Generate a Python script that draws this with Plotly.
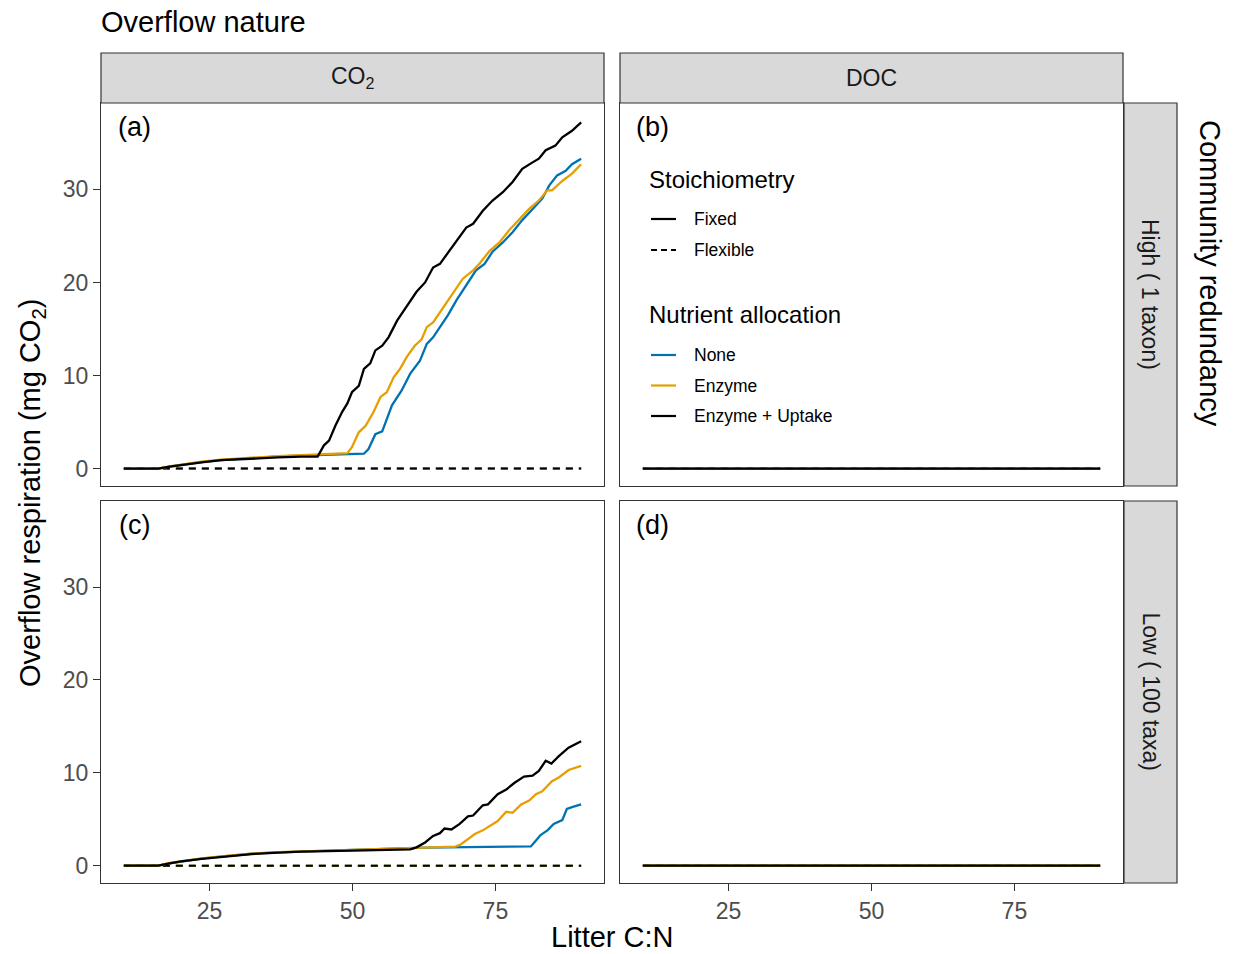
import plotly.graph_objects as go

W, H = 1239, 954

# ---------------- data ----------------
ALLOCATIONS = ["None", "Enzyme", "Enzyme + Uptake"]
COLORS = ["#0072B2", "#E69F00", "#000000"]
STOICH = ["Fixed", "Flexible"]

# Panel (a): CO2, High redundancy, Fixed stoichiometry
A_NONE_X = [10, 16, 18, 20, 23.6, 27, 32.3, 37, 41, 45,
            49, 52.0, 52.8, 54.0, 55.2, 56.9, 58.6, 60.1, 61.8, 63.0,
            64.1, 65.3, 66.7, 68.2, 69.9, 71.6, 73.1, 74.5, 76.3, 78.0,
            79.7, 81.5, 83.2, 84.4, 85.8, 87.3, 88.4, 90]
A_NONE_Y = [0, 0, 0.2, 0.4, 0.7, 0.9, 1.15, 1.3, 1.4, 1.5,
            1.55, 1.6, 2.1, 3.7, 4.0, 6.8, 8.4, 10.2, 11.6, 13.4,
            14.1, 15.2, 16.5, 18.1, 19.7, 21.3, 22.0, 23.3, 24.3, 25.4,
            26.7, 27.9, 29.0, 30.4, 31.5, 32.0, 32.7, 33.3]
A_ENZ_X = [10, 16, 18, 20, 23.6, 27, 32.3, 37, 41, 45,
           49.1, 49.9, 51.1, 52.3, 53.7, 54.9, 56.0, 57.2, 58.3, 59.5,
           60.9, 62.1, 63.0, 64.1, 65.3, 66.7, 68.2, 69.3, 71.1, 72.2,
           74.0, 75.7, 77.4, 79.2, 80.9, 82.6, 84.1, 84.9, 86.7, 88.4, 90]
A_ENZ_Y = [0, 0, 0.25, 0.45, 0.75, 0.95, 1.2, 1.35, 1.45, 1.55,
           1.65, 2.3, 3.9, 4.6, 6.1, 7.7, 8.2, 9.8, 10.7, 12.0,
           13.2, 13.9, 15.2, 15.7, 16.8, 18.1, 19.5, 20.4, 21.3, 22.0,
           23.4, 24.3, 25.6, 26.8, 27.9, 28.8, 29.9, 29.9, 30.9, 31.7, 32.7]
A_UPT_X = [10, 16, 18, 20, 23.6, 27, 32.3, 37, 41,
           43.9, 45.0, 45.9, 47.0, 48.2, 49.1, 49.9, 51.1, 52.0, 53.1,
           54.0, 55.2, 56.3, 57.8, 59.5, 61.2, 62.7, 64.1, 65.3, 67.0,
           68.75, 69.9, 71.1, 72.8, 74.5, 76.3, 78.0, 79.7, 81.5, 82.6,
           83.8, 85.5, 86.7, 88.4, 90]
A_UPT_Y = [0, 0, 0.2, 0.4, 0.68, 0.9, 1.1, 1.2, 1.29,
           1.3, 2.5, 3.0, 4.6, 6.1, 7.0, 8.2, 8.9, 10.7, 11.3,
           12.7, 13.2, 14.1, 15.9, 17.5, 19.0, 20.0, 21.6, 22.0, 23.4,
           24.9, 25.9, 26.3, 27.7, 28.8, 29.7, 30.8, 32.2, 32.9, 33.3,
           34.2, 34.7, 35.6, 36.3, 37.2]

# Panel (c): CO2, Low redundancy, Fixed stoichiometry
C_NONE_X = [10, 16, 18, 20, 23.6, 27, 32.3, 37, 41, 50,
            58.3, 63, 70, 75, 81.2, 82.1, 82.9, 84.1, 85.2, 86.7,
            87.5, 88.4, 90]
C_NONE_Y = [0, 0, 0.25, 0.45, 0.75, 0.98, 1.28, 1.43, 1.53, 1.7,
            1.85, 1.95, 2.0, 2.05, 2.07, 2.7, 3.3, 3.8, 4.5, 4.9,
            6.1, 6.3, 6.6]
C_ENZ_X = [10, 16, 18, 20, 23.6, 27, 32.3, 37, 41, 50,
           58.3, 63, 68.0, 69.0, 70.2, 71.4, 72.8, 74.0, 75.4, 76.9,
           78.0, 79.5, 80.9, 82.1, 83.2, 84.9, 86.1, 87.8, 90]
C_ENZ_Y = [0, 0, 0.3, 0.5, 0.78, 1.0, 1.3, 1.45, 1.55, 1.7,
           1.85, 1.95, 2.05, 2.3, 2.9, 3.4, 3.8, 4.3, 4.8, 5.8,
           5.7, 6.6, 7.0, 7.7, 8.0, 9.1, 9.5, 10.3, 10.75]
C_UPT_X = [10, 16, 18, 20, 23.6, 27, 32.3, 37, 41, 50,
           58.3, 60.1, 61.2, 62.7, 64.1, 65.3, 66.1, 67.3, 68.75, 70.2,
           71.1, 72.8, 73.7, 75.4, 76.9, 78.3, 80.0, 81.5, 82.6, 83.8,
           84.8, 86.1, 87.8, 90]
C_UPT_Y = [0, 0, 0.25, 0.45, 0.72, 0.95, 1.25, 1.4, 1.5, 1.62,
           1.7, 1.75, 1.97, 2.5, 3.2, 3.5, 4.0, 3.9, 4.5, 5.3,
           5.4, 6.5, 6.6, 7.7, 8.2, 8.9, 9.6, 9.7, 10.2, 11.3,
           11.0, 11.8, 12.7, 13.4]

# Panels (b) and (d): DOC overflow is zero everywhere
DOC_X = [10, 90]
DOC_Y = [0, 0]

# Flexible stoichiometry: zero overflow in every panel
FLEX_X = [10, 90]
FLEX_Y = [0, 0]

COL_LABELS = ["CO<sub>2</sub>", "DOC"]
ROW_LABELS = ["High ( 1 taxon)", "Low ( 100 taxa)"]
PANEL_TAGS = ["(a)", "(b)", "(c)", "(d)"]
X_TICKS = [25, 50, 75]
Y_TICKS = [0, 10, 20, 30]

# ---------------- helpers ----------------
def fx(p):
    return p / W


def fy(p):
    return 1 - p / H


FONT = "Liberation Sans, Arial, Helvetica, sans-serif"
BORDER = "#333333"

COL_PX = [(101, 604), (620, 1123)]
ROW_PX = [(103, 486), (501, 883)]

fixed_series = {
    0: [(A_NONE_X, A_NONE_Y), (A_ENZ_X, A_ENZ_Y), (A_UPT_X, A_UPT_Y)],
    1: [(DOC_X, DOC_Y)] * 3,
    2: [(C_NONE_X, C_NONE_Y), (C_ENZ_X, C_ENZ_Y), (C_UPT_X, C_UPT_Y)],
    3: [(DOC_X, DOC_Y)] * 3,
}

fig = go.Figure()

for p in range(4):
    suffix = "" if p == 0 else str(p + 1)
    xa, ya = "x" + suffix, "y" + suffix
    # flexible (dashed) first
    for k, alloc in enumerate(ALLOCATIONS):
        fig.add_trace(go.Scatter(
            x=FLEX_X, y=FLEX_Y, mode="lines", xaxis=xa, yaxis=ya,
            line=dict(color=COLORS[k], width=2, dash="7px,6px"),
            name=f"{alloc} / Flexible", showlegend=False, hoverinfo="skip"))
    for k, alloc in enumerate(ALLOCATIONS):
        sx, sy = fixed_series[p][k]
        fig.add_trace(go.Scatter(
            x=sx, y=sy, mode="lines", xaxis=xa, yaxis=ya,
            line=dict(color=COLORS[k], width=2.3),
            name=f"{alloc} / Fixed", showlegend=False))

layout = dict(
    width=W, height=H, margin=dict(l=0, r=0, t=0, b=0),
    paper_bgcolor="white", plot_bgcolor="white",
    font=dict(family=FONT, color="#000000"),
    showlegend=False,
)

for p in range(4):
    r, c = divmod(p, 2)
    suffix = "" if p == 0 else str(p + 1)
    x0, x1 = COL_PX[c]
    y0, y1 = ROW_PX[r]
    xax = dict(
        domain=[fx(x0), fx(x1)], range=[6, 94], anchor="y" + suffix,
        showline=True, mirror=True, linecolor=BORDER, linewidth=1.2,
        showgrid=False, zeroline=False, tickvals=X_TICKS,
        ticks="outside" if r == 1 else "", ticklen=7, tickwidth=1.2, tickcolor=BORDER,
        showticklabels=(r == 1), tickfont=dict(size=23, color="#4D4D4D", family=FONT),
    )
    yax = dict(
        domain=[fy(y1), fy(y0)], range=[-1.87, 39.28], anchor="x" + suffix,
        showline=True, mirror=True, linecolor=BORDER, linewidth=1.2,
        showgrid=False, zeroline=False, tickvals=Y_TICKS,
        ticks="outside" if c == 0 else "", ticklen=7, tickwidth=1.2, tickcolor=BORDER,
        showticklabels=(c == 0), tickfont=dict(size=23, color="#4D4D4D", family=FONT),
    )
    layout["xaxis" + suffix] = xax
    layout["yaxis" + suffix] = yax

fig.update_layout(**layout)

shapes = []
annotations = []

# column strips
for c, lab in enumerate(COL_LABELS):
    x0, x1 = COL_PX[c]
    shapes.append(dict(type="rect", xref="paper", yref="paper",
                       x0=fx(x0), x1=fx(x1), y0=fy(103), y1=fy(53),
                       fillcolor="#D9D9D9", line=dict(color=BORDER, width=1.2)))
    annotations.append(dict(text=lab, xref="paper", yref="paper",
                            x=fx((x0 + x1) / 2), y=fy(78), showarrow=False,
                            xanchor="center", yanchor="middle",
                            font=dict(size=23, color="#1A1A1A", family=FONT)))

# row strips
for r, lab in enumerate(ROW_LABELS):
    y0, y1 = ROW_PX[r]
    shapes.append(dict(type="rect", xref="paper", yref="paper",
                       x0=fx(1124), x1=fx(1177), y0=fy(y1), y1=fy(y0),
                       fillcolor="#D9D9D9", line=dict(color=BORDER, width=1.2)))
    annotations.append(dict(text=lab, xref="paper", yref="paper",
                            x=fx(1150.5), y=fy((y0 + y1) / 2), showarrow=False,
                            textangle=90, xanchor="center", yanchor="middle",
                            font=dict(size=23, color="#1A1A1A", family=FONT)))

# panel tags
for p, tag in enumerate(PANEL_TAGS):
    r, c = divmod(p, 2)
    annotations.append(dict(text=tag, xref="paper", yref="paper",
                            x=fx(COL_PX[c][0] + 33), y=fy(ROW_PX[r][0] + 24), showarrow=False,
                            xanchor="center", yanchor="middle",
                            font=dict(size=27, color="#000000", family=FONT)))

# titles
annotations.append(dict(text="Overflow nature", xref="paper", yref="paper",
                        x=fx(99), y=fy(22), showarrow=False, xanchor="left", yanchor="middle",
                        font=dict(size=29, family=FONT)))
annotations.append(dict(text="Community redundancy", xref="paper", yref="paper",
                        x=fx(1210), y=fy(273), showarrow=False, textangle=90,
                        xanchor="center", yanchor="middle", font=dict(size=29, family=FONT)))
annotations.append(dict(text="Overflow respiration (mg CO<sub>2</sub>)", xref="paper", yref="paper",
                        x=fx(32), y=fy(493), showarrow=False, textangle=-90,
                        xanchor="center", yanchor="middle", font=dict(size=29, family=FONT)))
annotations.append(dict(text="Litter C:N", xref="paper", yref="paper",
                        x=fx(612), y=fy(937), showarrow=False,
                        xanchor="center", yanchor="middle", font=dict(size=29, family=FONT)))

# legend (inside panel b)
annotations.append(dict(text="Stoichiometry", xref="paper", yref="paper",
                        x=fx(647), y=fy(179), showarrow=False, xanchor="left", yanchor="middle",
                        font=dict(size=24, family=FONT)))
annotations.append(dict(text="Nutrient allocation", xref="paper", yref="paper",
                        x=fx(647), y=fy(314), showarrow=False, xanchor="left", yanchor="middle",
                        font=dict(size=24, family=FONT)))
leg_items = [("Fixed", "#000000", "solid", 219), ("Flexible", "#000000", "6px,4px", 250)]
for k, alloc in enumerate(ALLOCATIONS):
    leg_items.append((alloc, COLORS[k], "solid", 355 + 30.5 * k))
for lab, col, dash, ypx in leg_items:
    shapes.append(dict(type="line", xref="paper", yref="paper",
                       x0=fx(651), x1=fx(676), y0=fy(ypx), y1=fy(ypx),
                       line=dict(color=col, width=2.2, dash=dash)))
    annotations.append(dict(text=lab, xref="paper", yref="paper",
                            x=fx(692), y=fy(ypx), showarrow=False, xanchor="left", yanchor="middle",
                            font=dict(size=17.5, family=FONT)))

fig.update_layout(shapes=shapes, annotations=annotations)
fig.write_html("out.html")
